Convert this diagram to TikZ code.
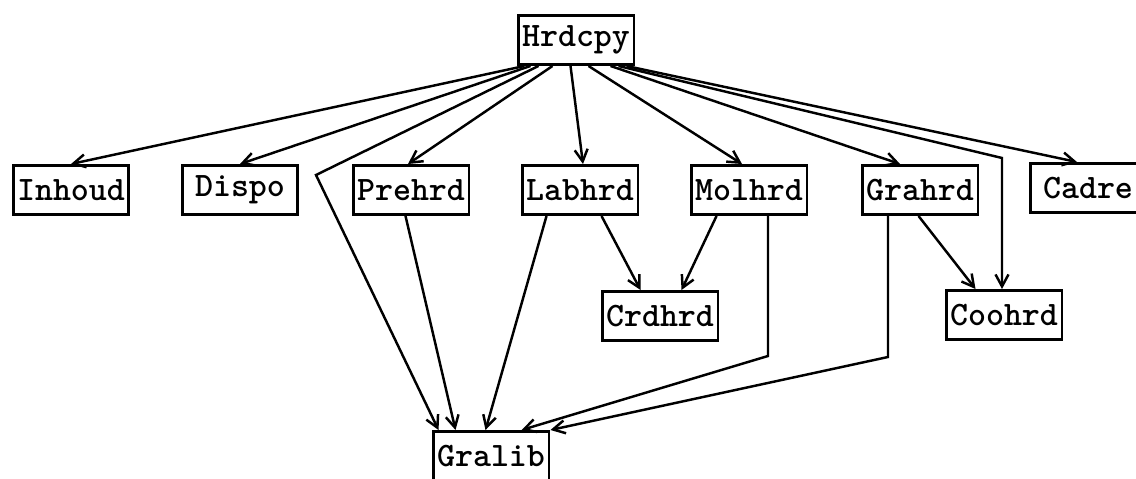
\documentclass[tikz,border=0pt]{standalone}
\usetikzlibrary{arrows.meta, calc}
\tikzset{
  every picture/.style={font=\ttfamily\bfseries\fontsize{19.5}{21}\selectfont, line width=1.4pt},
  box/.style={draw, line width=1.7pt, minimum width=2.32cm, minimum height=0.98cm, inner sep=1pt},
  arrow/.style={-{Straight Barb[length=2.4mm, width=2.6mm]}},
}

\begin{document}
\begin{tikzpicture}[x=0.02cm, y=-0.02cm]
  \useasboundingbox (0,0) rectangle (1136,479);
  \node[box] (hrdcpy) at (576,40) {Hrdcpy};
  \node[box] (inhoud) at (71,190) {Inhoud};
  \node[box] (dispo) at (240,190) {Dispo};
  \node[box] (prehrd) at (411,190) {Prehrd};
  \node[box] (labhrd) at (580,190) {Labhrd};
  \node[box] (molhrd) at (749,190) {Molhrd};
  \node[box] (grahrd) at (920,190) {Grahrd};
  \node[box] (cadre) at (1088,188) {Cadre};
  \node[box] (crdhrd) at (660,316) {Crdhrd};
  \node[box] (coohrd) at (1004,315) {Coohrd};
  \node[box] (gralib) at (491,456) {Gralib};
  \coordinate (kleft) at (316,175);
  \coordinate (kcoo) at (1002,158);
  \coordinate (kmol) at (768,356);
  \coordinate (kgra) at (888,357);
  \draw[arrow] ($(hrdcpy.south west)+(8,0)$) -- (inhoud.north);
  \draw[arrow] ($(hrdcpy.south west)+(14,0)$) -- (dispo.north);
  \draw[arrow] ($(hrdcpy.south west)+(22,0)$) -- (kleft) -- ($(gralib.north west)+(7,0)$);
  \draw[arrow] ($(hrdcpy.south west)+(36,0)$) -- ($(prehrd.north)+(-3,0)$);
  \draw[arrow] ($(hrdcpy.south west)+(54,0)$) -- ($(labhrd.north)+(3,0)$);
  \draw[arrow] ($(hrdcpy.south west)+(72,0)$) -- ($(molhrd.north)+(-7,0)$);
  \draw[arrow] ($(hrdcpy.south west)+(94,0)$) -- ($(grahrd.north)+(-20,0)$);
  \draw[arrow] ($(hrdcpy.south west)+(102,0)$) -- (kcoo) -- (coohrd.north -| kcoo);
  \draw[arrow] ($(hrdcpy.south west)+(110,0)$) -- ($(cadre.north)+(-11,0)$);
  \draw[arrow] ($(prehrd.south west)+(54,0)$) -- ($(gralib.north west)+(24,0)$);
  \draw[arrow] ($(labhrd.south west)+(26,0)$) -- ($(gralib.north west)+(54,0)$);
  \draw[arrow] ($(labhrd.south west)+(81,0)$) -- ($(crdhrd.north west)+(40,0)$);
  \draw[arrow] ($(molhrd.south west)+(27,0)$) -- ($(crdhrd.north west)+(81,0)$);
  \draw[arrow] (molhrd.south -| kmol) -- (kmol) -- ($(gralib.north west)+(90,0)$);
  \draw[arrow] (grahrd.south -| kgra) -- (kgra) -- (gralib.north east);
  \draw[arrow] ($(grahrd.south west)+(58,0)$) -- ($(coohrd.north west)+(31,0)$);
\end{tikzpicture}
\end{document}
